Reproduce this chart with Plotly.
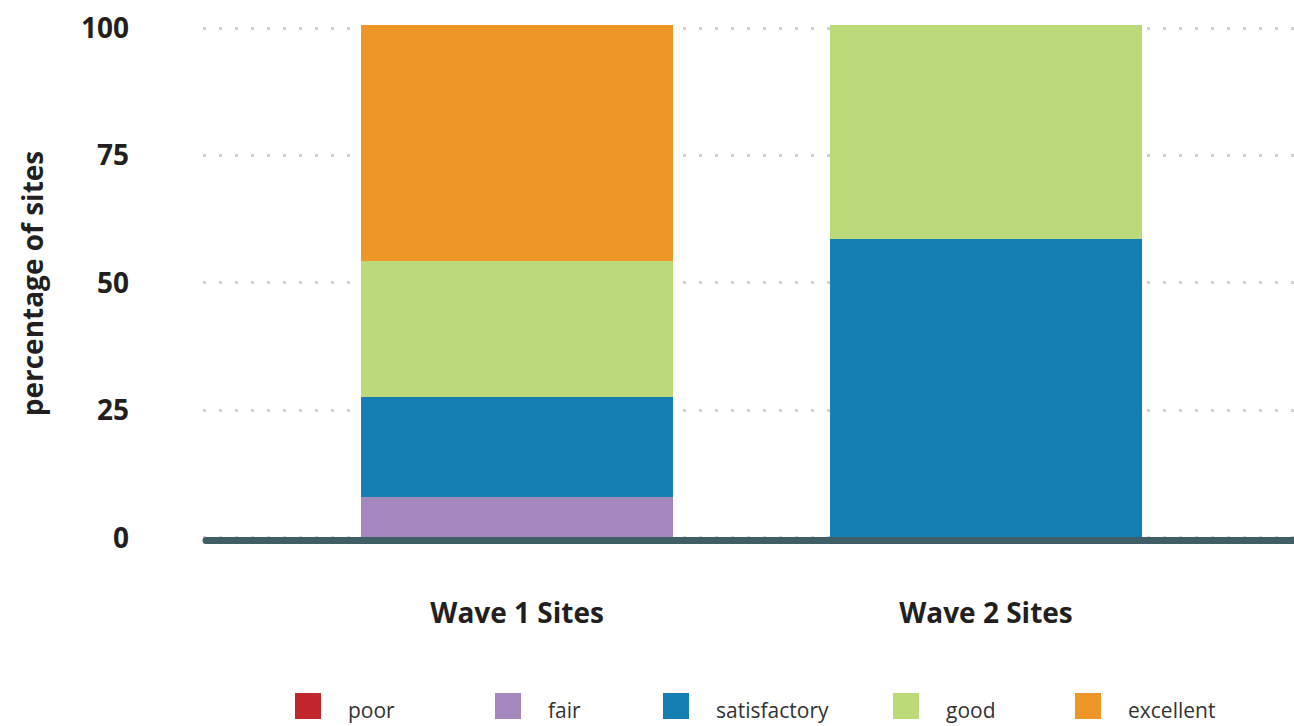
import plotly.graph_objects as go

categories = ["Wave 1 Sites", "Wave 2 Sites"]
series_names = ["poor", "fair", "satisfactory", "good", "excellent"]
poor = [0, 0]
fair = [8.0, 0]
satisfactory = [19.7, 58.6]
good = [26.6, 42.1]
excellent = [46.3, 0]
colors = ["#C1272D", "#A487BD", "#157FB1", "#BDDA7A", "#EE9728"]
y_ticks = [0, 25, 50, 75, 100]

values = [poor, fair, satisfactory, good, excellent]

FONT = "Open Sans"
W, H = 1294, 726
ML, MR, MT, MB = 203, 0, 23, 182
plot_w = W - ML - MR
plot_h = H - MT - MB

fig = go.Figure()
for name, vals, col in zip(series_names, values, colors):
    fig.add_trace(go.Bar(
        x=categories, y=vals, name=name,
        marker=dict(color=col, line=dict(width=0)),
        width=0.665, showlegend=False,
    ))

def px_x(px):
    return (px - ML) / plot_w

def px_y(py):
    return (H - MB - py) / plot_h

shapes = []
annotations = []
# zero baseline (slightly below the zero value, like the reference)
shapes.append(dict(type="line", xref="paper", yref="y", x0=px_x(206), x1=1.01,
                   y0=-2.5, y1=-2.5, ysizemode="pixel", yanchor=0,
                   line=dict(color="#3F5E66", width=7), layer="above"))
shapes.append(dict(type="circle", xref="paper", yref="y",
                   xsizemode="pixel", xanchor=px_x(206), x0=-3.5, x1=3.5,
                   ysizemode="pixel", yanchor=0, y0=-6, y1=1,
                   fillcolor="#3F5E66", line=dict(width=0), layer="above"))
# custom legend
sq_left = [295, 495, 663, 893, 1075]
for name, col, sx in zip(series_names, colors, sq_left):
    shapes.append(dict(type="rect", xref="paper", yref="paper",
                       x0=px_x(sx), x1=px_x(sx + 26),
                       y0=px_y(719), y1=px_y(693),
                       fillcolor=col, line=dict(width=0)))
    annotations.append(dict(xref="paper", yref="paper", x=px_x(sx + 51),
                            y=px_y(710), text=name, showarrow=False,
                            xanchor="left", yanchor="middle",
                            font=dict(family=FONT, size=21, color="#333333")))

fig.update_layout(
    barmode="stack",
    width=W, height=H,
    margin=dict(l=ML, r=MR, t=MT, b=MB, pad=0),
    paper_bgcolor="white", plot_bgcolor="white",
    font=dict(family=FONT),
    shapes=shapes, annotations=annotations,
    xaxis=dict(range=[-0.67, 1.657], showgrid=False, zeroline=False,
               showline=False, ticks="", ticklabelstandoff=50,
               tickfont=dict(family=FONT, size=28, color="#231F20", weight="bold")),
    yaxis=dict(range=[-1.2, 101], tickvals=y_ticks, showgrid=True,
               gridcolor="#D2D2D2", gridwidth=3, griddash="3px,13px",
               zeroline=False, showline=False, ticks="",
               ticklabelstandoff=73,
               tickfont=dict(family=FONT, size=28, color="#231F20", weight="bold"),
               title=dict(text="percentage of sites", standoff=29,
                          font=dict(family=FONT, size=28, color="#231F20", weight="bold"))),
)

fig.write_html("out.html")
